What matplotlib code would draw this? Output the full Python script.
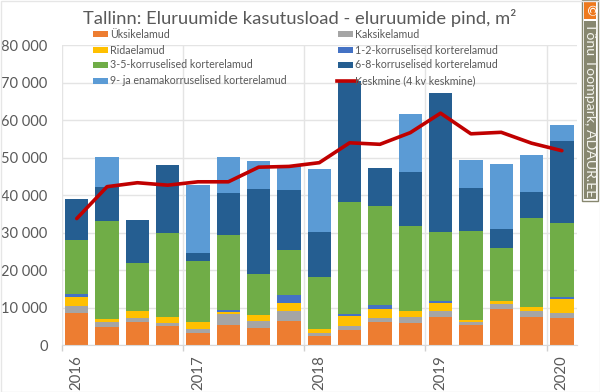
import numpy as np
import matplotlib
matplotlib.use("Agg")
import matplotlib.pyplot as plt
from matplotlib.patches import Rectangle
from matplotlib.lines import Line2D

plt.rcParams['font.family'] = ['Lato', 'DejaVu Sans']

quarters = ["2016", "", "", "", "2017", "", "", "", "2018", "", "", "", "2019", "", "", "", "2020"]
yksik = [8620, 4900, 6200, 5150, 3300, 5350, 4600, 6500, 2500, 4100, 6200, 5950, 7550, 5350, 9600, 7450, 7300]
kaksik = [1960, 1400, 1100, 750, 1050, 3000, 1800, 2650, 900, 1050, 1150, 1600, 1500, 950, 1400, 1700, 1300]
rida = [2400, 800, 1950, 1550, 1950, 550, 1700, 2150, 950, 2650, 2350, 1700, 2250, 450, 750, 1050, 3750]
k12 = [800, 0, 0, 0, 0, 400, 0, 2100, 0, 550, 1150, 0, 500, 0, 0, 0, 550]
k35 = [14220, 25970, 12650, 22550, 16100, 20050, 10800, 11900, 13850, 29950, 26300, 22500, 18300, 23750, 14150, 23650, 19650]
k68 = [11100, 9100, 11400, 18000, 2200, 11250, 22800, 16000, 12100, 32200, 10050, 14550, 37150, 11500, 5100, 7050, 21850]
k9 = [0, 8000, 0, 0, 18200, 9600, 7500, 6700, 16700, 0, 0, 15400, 0, 7400, 17300, 9800, 4300]
keskmine = [33800, 42300, 43350, 42700, 43600, 43600, 47500, 47700, 48700, 54000, 53600, 56700, 61900, 56400, 56800, 53900, 51900]

series = [
    ("Üksikelamud", yksik, "#ED7D31"),
    ("Kaksikelamud", kaksik, "#A5A5A5"),
    ("Ridaelamud", rida, "#FFC000"),
    ("1-2-korruselised korterelamud", k12, "#4472C4"),
    ("3-5-korruselised korterelamud", k35, "#70AD47"),
    ("6-8-korruselised korterelamud", k68, "#255E91"),
    ("9- ja enamakorruselised korterelamud", k9, "#5B9BD5"),
]
TXT = "#595959"

W, H = 600, 392
fig = plt.figure(figsize=(W / 100, H / 100), dpi=100, facecolor="white")
ax = fig.add_axes([61.6 / W, 1 - 345.3 / H, (577 - 61.6) / W, (345.3 - 45.3) / H])

x = np.arange(len(quarters))
bottom = np.zeros(len(quarters))
for name, vals, col in series:
    v = np.array(vals, dtype=float)
    ax.bar(x, v, 0.77, bottom=bottom, color=col, linewidth=0, zorder=2)
    bottom += v
ax.plot(x, keskmine, color="#C00000", lw=2.6, zorder=3, solid_capstyle="round", solid_joinstyle="round")

ax.set_xlim(-0.5, 16.5)
ax.set_ylim(0, 80000)
ax.set_yticks(np.arange(0, 80001, 10000))
ax.set_yticklabels([f"{v:,}".replace(",", " ") for v in range(0, 80001, 10000)], fontsize=10.5, color=TXT)
ax.tick_params(axis="y", length=0, pad=10)
ax.grid(axis="y", color="#E4E4E4", lw=1, zorder=0)

year_pos = [i - 0.5 for i, q in enumerate(quarters) if q]
ax.set_xticks(year_pos, minor=False)
ax.set_xticklabels([])
for xv in year_pos:
    ax.axvline(xv, color="#E4E4E4", lw=1, zorder=0)
ax.tick_params(axis="x", length=4, color="#D0D0D0", width=1)
for i, q in enumerate(quarters):
    if q:
        ax.annotate(q, (i, 0), xycoords=("data", "axes fraction"), xytext=(0, -10),
                    textcoords="offset pixels", rotation=90, ha="center", va="top",
                    fontsize=10.8, color=TXT)
for s in ["top", "right", "left"]:
    ax.spines[s].set_visible(False)
ax.spines["bottom"].set_color("#D9D9D9")

fig.text(300 / W, 1 - 18 / H, "Tallinn: Eluruumide kasutusload - eluruumide pind, m²",
         ha="center", va="center", fontsize=13.2, color=TXT)

# Legend laid out in two columns, row by row
handles = [Rectangle((0, 0), 1, 1, color=c, lw=0) for _, _, c in series]
labels = [n for n, _, _ in series]
handles.append(Line2D([0], [0], color="#C00000", lw=2.6))
labels.append("Keskmine (4 kv keskmine)")
col_x = [93, 338]
row_y = [34, 50, 65, 81]
for i, (h, lab) in enumerate(zip(handles, labels)):
    cx, ry = col_x[i % 2], row_y[i // 2]
    if isinstance(h, Rectangle):
        fig.add_artist(Rectangle((cx / W, 1 - (ry + 3) / H), 15 / W, 6 / H,
                                 transform=fig.transFigure, color=h.get_facecolor(), lw=0))
    else:
        fig.add_artist(Line2D([(cx - 1) / W, (cx + 18) / W], [1 - ry / H, 1 - ry / H],
                              transform=fig.transFigure, color="#C00000", lw=2.6))
    fig.text((cx + 17) / W, 1 - ry / H, lab, ha="left", va="center", fontsize=7.7, color=TXT)

# Copyright strip on the right edge
fig.add_artist(Rectangle((582 / W, 1 - 201 / H), 16 / W, 201 / H, transform=fig.transFigure,
                         facecolor="white", edgecolor="#87876F", lw=1))
fig.add_artist(Rectangle((584 / W, 1 - 19 / H), 12 / W, 18 / H, transform=fig.transFigure,
                         facecolor="#EE7A1E", lw=0))
fig.add_artist(Rectangle((584 / W, 1 - 199 / H), 12 / W, 178 / H, transform=fig.transFigure,
                         facecolor="#87876F", lw=0))
fig.text(590 / W, 1 - 10 / H, "©", ha="center", va="center", rotation=270, fontsize=10, color="white")
fig.text(590 / W, 1 - 110 / H, "Tõnu Toompark, ADAUR.EE", ha="center", va="center",
         rotation=270, fontsize=10.2, color="#F4F4EE")

# Thin frame round the whole chart
fig.add_artist(Rectangle((0.5 / W, 0.5 / H), (W - 1) / W, (H - 1) / H, transform=fig.transFigure,
                         facecolor="none", edgecolor="#E6E6E6", lw=1))

fig.savefig("out.png", dpi=100)
